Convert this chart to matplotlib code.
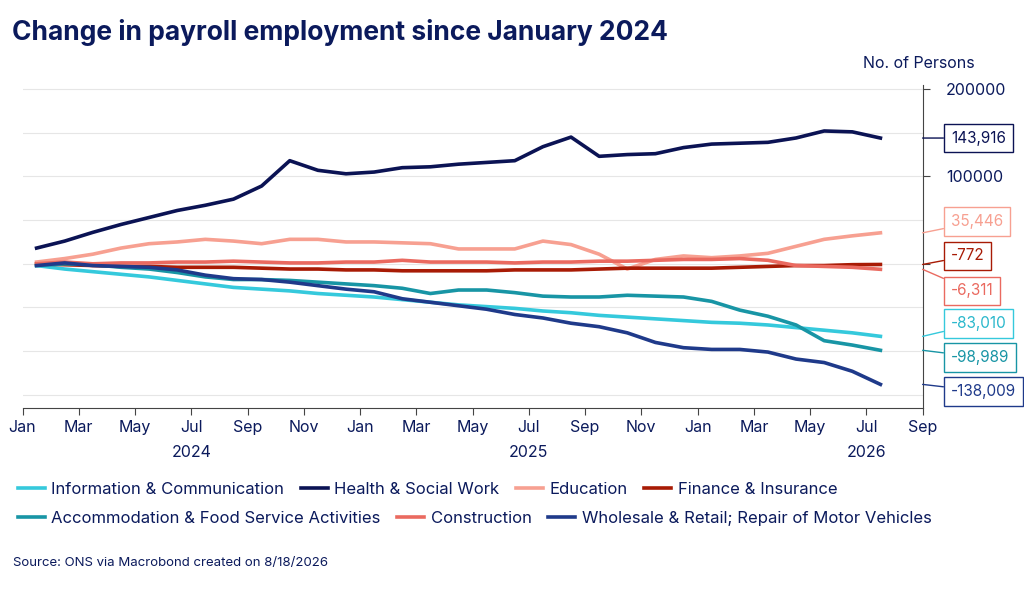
import matplotlib
matplotlib.use("Agg")
import matplotlib.pyplot as plt
import numpy as np

plt.rcParams['font.family'] = ['Inter', 'DejaVu Sans']

series_names = ["Information & Communication", "Health & Social Work", "Education", "Finance & Insurance",
                "Accommodation & Food Service Activities", "Construction", "Wholesale & Retail; Repair of Motor Vehicles"]
colors = ["#35c9dc", "#0b1354", "#f7a091", "#a81b05", "#1895a5", "#ea6a60", "#1f3a8a"]

info = [-2,-6,-9,-12,-15,-19,-23,-27,-29,-31,-34,-36,-38,-41,-44,-47,-49,-51,-54,-56,-59,-61,-63,-65,-67,-68,-70,-73,-76,-79,-83.010]
health = [18,26,36,45,53,61,67,74,89,118,107,103,105,110,111,114,116,118,134,145,123,125,126,133,137,138,139,144,152,151,143.916]
education = [2,6,11,18,23,25,28,26,23,28,28,25,25,24,23,17,17,17,26,22,11,-6,5,9,7,9,12,20,28,32,35.446]
finance = [0,-1,-2,-3,-3,-4,-4,-4,-5,-6,-6,-7,-7,-8,-8,-8,-8,-7,-7,-7,-6,-5,-5,-5,-5,-4,-3,-2,-2,-1,-0.772]
accom = [-2,0,-1,-4,-6,-10,-15,-18,-18,-19,-21,-23,-25,-28,-34,-30,-30,-33,-37,-38,-38,-36,-37,-38,-43,-53,-60,-70,-88,-93,-98.989]
construction = [0,2,0,1,1,2,2,3,2,1,1,2,2,4,2,2,2,1,2,2,3,3,4,5,5,6,4,-2,-3,-4,-6.311]
wholesale = [-2,1,-2,-3,-4,-7,-13,-17,-18,-21,-25,-29,-32,-40,-44,-48,-52,-58,-62,-68,-72,-79,-90,-96,-98,-98,-101,-109,-113,-123,-138.009]
data = [info, health, education, finance, accom, construction, wholesale]
end_labels = ["-83,010", "143,916", "35,446", "-772", "-98,989", "-6,311", "-138,009"]
label_y = [-68000, 143916, 48000, 9000, -107000, -31000, -146000]

month_labels = ["Jan","Mar","May","Jul","Sep","Nov","Jan","Mar","May","Jul","Sep","Nov","Jan","Mar","May","Jul","Sep"]
year_labels = ["2024", "2025", "2026"]

fig = plt.figure(figsize=(10.24, 5.90), dpi=100)
ax = fig.add_axes([0.022, 0.3085, 0.879, 0.548])
x = np.arange(31) + 0.5
for d, c, n in zip(data, colors, series_names):
    ax.plot(x, np.array(d) * 1000, color=c, lw=2.6, label=n)

ax.set_xlim(0, 32)
ax.set_ylim(-165000, 205000)
ax.yaxis.tick_right()
ax.set_yticks([0, 100000, 200000])
ax.set_yticklabels(["0", "100000", "200000"], fontsize=11.5, color="#0b1a5c")
for yv in np.arange(-150000, 200001, 50000):
    ax.axhline(yv, color="#e6e6e6", lw=0.8, zorder=0)
for s in ["top", "left"]:
    ax.spines[s].set_visible(False)
ax.spines["right"].set_color("#444")
ax.spines["bottom"].set_color("#444")
ax.set_xticks(np.arange(0, 33, 2))
ax.set_xticklabels(month_labels, fontsize=11.5, color="#0b1a5c")
ax.tick_params(axis='x', length=5, color="#444")
ax.tick_params(axis='y', length=5, color="#444", pad=12)
for i, yl in enumerate(year_labels):
    ax.text(6 + 12 * i, -0.115, yl, transform=ax.get_xaxis_transform(), ha='center', va='top',
            fontsize=11.5, color="#0b1a5c")

for d, c, lab, ly in zip(data, colors, end_labels, label_y):
    ax.annotate(lab, xy=(32, d[-1] * 1000), xytext=(33.0, ly), textcoords='data',
                fontsize=11, color=c if c != "#35c9dc" else "#2bb8cc", va='center', ha='left',
                annotation_clip=False,
                bbox=dict(boxstyle="square,pad=0.45", fc="white", ec=c, lw=1),
                arrowprops=dict(arrowstyle="-", color=c, lw=1, shrinkA=0, shrinkB=0))

fig.text(0.012, 0.945, "Change in payroll employment since January 2024", fontsize=19, fontweight='bold',
         color="#0b1a5c", va='center')
fig.text(0.843, 0.893, "No. of Persons", fontsize=11.5, color="#0b1a5c", va='center')

handles = ax.get_lines()
kw = dict(frameon=False, fontsize=12, handlelength=1.6, columnspacing=1.0, handletextpad=0.4,
          labelcolor="#0b1a5c", loc='center left')
leg1 = fig.legend(handles[:4], series_names[:4], bbox_to_anchor=(0.003, 0.17), ncol=4, **kw)
leg2 = fig.legend(handles[4:], series_names[4:], bbox_to_anchor=(0.003, 0.122), ncol=3, **kw)
fig.text(0.013, 0.04, "Source: ONS via Macrobond created on 8/18/2026", fontsize=9.5, color="#0b1a5c")

fig.savefig("out.png", dpi=100)
